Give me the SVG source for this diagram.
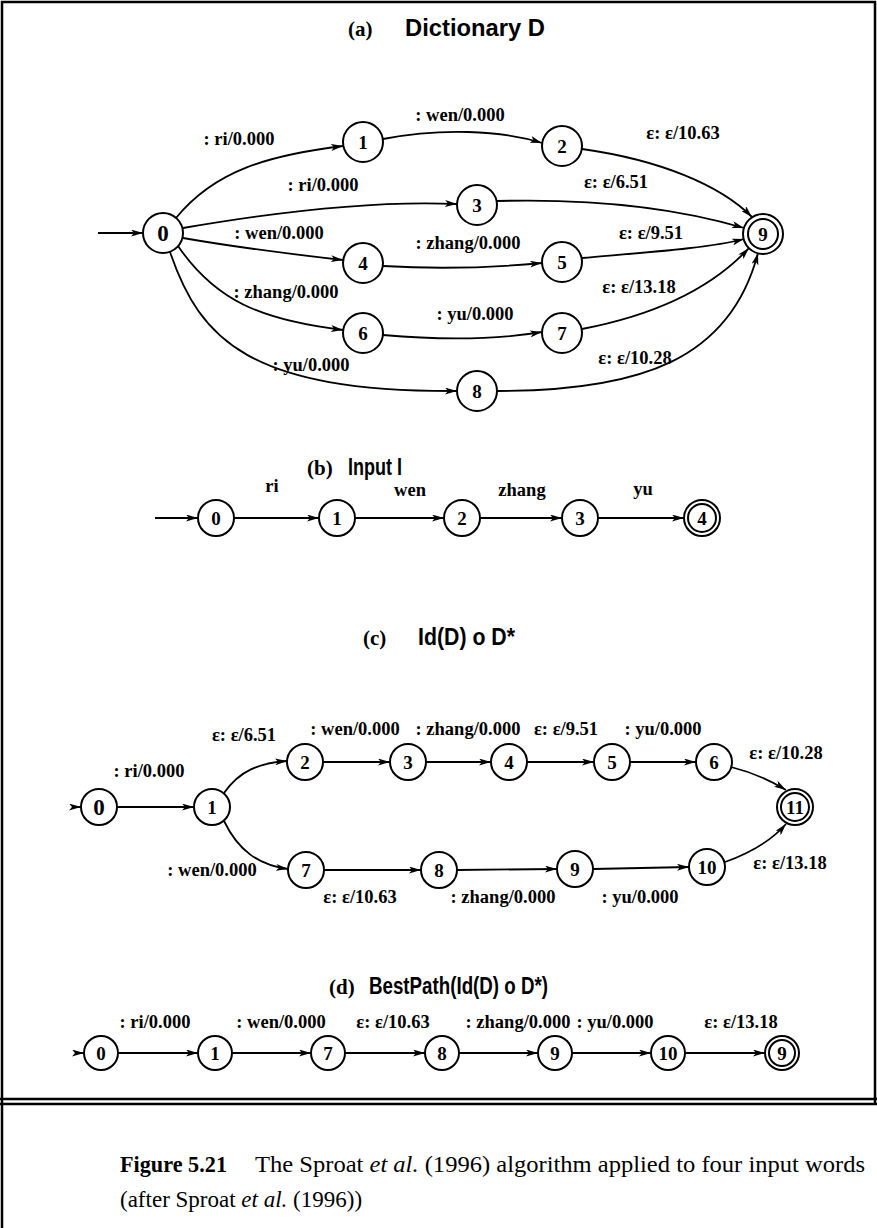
<svg xmlns="http://www.w3.org/2000/svg" width="877" height="1228" viewBox="0 0 877 1228">
<style>
.frame{fill:none;stroke:#000;stroke-width:2.5}
.n{fill:#fff;stroke:#000;stroke-width:2}
.e{fill:none;stroke:#000;stroke-width:1.8;marker-end:url(#ah)}
.num{font-family:"Liberation Serif","Times New Roman",serif;font-weight:bold;font-size:19px;text-anchor:middle}
.big{font-size:23px}
.lbl{font-family:"Liberation Serif","Times New Roman",serif;font-weight:bold;font-size:18.5px;text-anchor:middle}
.tl{font-family:"Liberation Serif","Times New Roman",serif;font-weight:bold;font-size:21px}
.th{font-family:"Liberation Sans",Arial,sans-serif;font-weight:bold;font-size:23px}
.cap{font-family:"Liberation Serif","Times New Roman",serif;font-size:23px}
</style>
<defs>
<marker id="ah" viewBox="0 0 12 7" refX="12" refY="3.5" markerWidth="12" markerHeight="7" orient="auto" markerUnits="userSpaceOnUse">
<path d="M0,0 L12,3.5 L0,7 L3,3.5 z" fill="#000"/>
</marker>
</defs>
<rect width="877" height="1228" fill="#fff"/>
<g id="frame">
<path class="frame" d="M2,1228 L2,2 L875,2 L875,1104"/>
<line class="frame" x1="0" y1="1099" x2="877" y2="1099" stroke-width="2"/>
<line class="frame" x1="0" y1="1104" x2="877" y2="1104" stroke-width="2"/>
</g>

<g id="titles">
<text class="tl" x="348" y="36">(a)</text>
<text class="th" x="405" y="36" textLength="140" lengthAdjust="spacingAndGlyphs">Dictionary D</text>
<text class="tl" x="307" y="475">(b)</text>
<text class="th" x="348" y="475" textLength="54" lengthAdjust="spacingAndGlyphs">Input I</text>
<text class="tl" x="363" y="645">(c)</text>
<text class="th" x="418" y="645" textLength="97" lengthAdjust="spacingAndGlyphs">Id(D) o D*</text>
<text class="tl" x="329" y="994">(d)</text>
<text class="th" x="369" y="994" textLength="179" lengthAdjust="spacingAndGlyphs">BestPath(Id(D) o D*)</text>
</g>

<g id="connectors">
<!-- (a) -->
<path class="e" d="M98,233 L143,233"/>
<path class="e" d="M176,218 C215,170 270,155 343,146"/>
<path class="e" d="M383,139 C440,128 500,130 542,143"/>
<path class="e" d="M183,228 C270,213 370,200 457,204"/>
<path class="e" d="M183,238 C240,248 290,254 343,260"/>
<path class="e" d="M383,266 C450,270 500,267 542,263"/>
<path class="e" d="M178,246 C215,300 260,320 343,330"/>
<path class="e" d="M383,335 C450,341 500,339 542,332"/>
<path class="e" d="M170,252 C200,340 250,392 457,391"/>
<path class="e" d="M582,149 C660,160 720,185 752,217"/>
<path class="e" d="M497,201 C610,198 690,212 744,228"/>
<path class="e" d="M582,258 C650,252 710,248 744,239"/>
<path class="e" d="M582,329 C650,316 710,290 749,248"/>
<path class="e" d="M497,391 C640,391 730,360 758,253"/>
<!-- (b) -->
<path class="e" d="M155,518 L198,518"/>
<path class="e" d="M234,518 L319,518"/>
<path class="e" d="M355,518 L444,518"/>
<path class="e" d="M480,518 L562,518"/>
<path class="e" d="M598,518 L684,518"/>
<!-- (c) -->
<path class="e" d="M74,807 L81,807"/>
<path class="e" d="M117,807 L194,807"/>
<path class="e" d="M224,793 C240,770 260,763 287,761"/>
<path class="e" d="M224,821 C238,850 258,865 288,869"/>
<path class="e" d="M323,762 L390,762"/>
<path class="e" d="M426,762 L491,762"/>
<path class="e" d="M527,762 L594,762"/>
<path class="e" d="M630,762 L696,762"/>
<path class="e" d="M731,767 C755,773 773,782 786,790"/>
<path class="e" d="M324,870 L421,870"/>
<path class="e" d="M457,870 L557,869"/>
<path class="e" d="M593,869 L689,867"/>
<path class="e" d="M725,862 C750,853 772,840 786,824"/>
<!-- (d) -->
<path class="e" d="M78,1053 L84,1053"/>
<path class="e" d="M118,1053 L198,1053"/>
<path class="e" d="M232,1053 L311,1053"/>
<path class="e" d="M345,1053 L425,1053"/>
<path class="e" d="M459,1053 L538,1053"/>
<path class="e" d="M572,1053 L651,1053"/>
<path class="e" d="M685,1053 L765,1053"/>
</g>

<g id="labels">
<text class="lbl" x="239" y="145">: ri/0.000</text>
<text class="lbl" x="460" y="121">: wen/0.000</text>
<text class="lbl" x="323" y="191">: ri/0.000</text>
<text class="lbl" x="279" y="239">: wen/0.000</text>
<text class="lbl" x="468" y="249">: zhang/0.000</text>
<text class="lbl" x="286" y="298">: zhang/0.000</text>
<text class="lbl" x="475" y="320">: yu/0.000</text>
<text class="lbl" x="311" y="371">: yu/0.000</text>
<text class="lbl" x="683" y="139">ε: ε/10.63</text>
<text class="lbl" x="616" y="188">ε: ε/6.51</text>
<text class="lbl" x="651" y="239">ε: ε/9.51</text>
<text class="lbl" x="639" y="293">ε: ε/13.18</text>
<text class="lbl" x="635" y="364">ε: ε/10.28</text>

<text class="lbl" x="272" y="492">ri</text>
<text class="lbl" x="410" y="496">wen</text>
<text class="lbl" x="522" y="496">zhang</text>
<text class="lbl" x="643" y="495">yu</text>

<text class="lbl" x="244" y="741">ε: ε/6.51</text>
<text class="lbl" x="355" y="735">: wen/0.000</text>
<text class="lbl" x="468" y="735">: zhang/0.000</text>
<text class="lbl" x="566" y="735">ε: ε/9.51</text>
<text class="lbl" x="663" y="735">: yu/0.000</text>
<text class="lbl" x="786" y="759">ε: ε/10.28</text>
<text class="lbl" x="149" y="777">: ri/0.000</text>
<text class="lbl" x="212" y="876">: wen/0.000</text>
<text class="lbl" x="790" y="869">ε: ε/13.18</text>
<text class="lbl" x="360" y="903">ε: ε/10.63</text>
<text class="lbl" x="503" y="903">: zhang/0.000</text>
<text class="lbl" x="640" y="903">: yu/0.000</text>

<text class="lbl" x="155" y="1028">: ri/0.000</text>
<text class="lbl" x="281" y="1028">: wen/0.000</text>
<text class="lbl" x="393" y="1028">ε: ε/10.63</text>
<text class="lbl" x="518" y="1028">: zhang/0.000</text>
<text class="lbl" x="615" y="1028">: yu/0.000</text>
<text class="lbl" x="741" y="1028">ε: ε/13.18</text>
</g>

<g id="a0"><circle class="n" cx="163" cy="233" r="20"/><text class="num big" x="163" y="241">0</text></g>
<g id="a1"><circle class="n" cx="363" cy="142" r="20"/><text class="num" x="363" y="149">1</text></g>
<g id="a2"><circle class="n" cx="562" cy="146" r="20"/><text class="num" x="562" y="153">2</text></g>
<g id="a3"><circle class="n" cx="477" cy="205" r="20"/><text class="num" x="477" y="212">3</text></g>
<g id="a4"><circle class="n" cx="363" cy="263" r="20"/><text class="num" x="363" y="270">4</text></g>
<g id="a5"><circle class="n" cx="562" cy="262" r="20"/><text class="num" x="562" y="269">5</text></g>
<g id="a6"><circle class="n" cx="363" cy="333" r="20"/><text class="num" x="363" y="340">6</text></g>
<g id="a7"><circle class="n" cx="562" cy="333" r="20"/><text class="num" x="562" y="340">7</text></g>
<g id="a8"><circle class="n" cx="477" cy="391" r="20"/><text class="num" x="477" y="398">8</text></g>
<g id="a9"><circle class="n" cx="763" cy="234" r="20"/><circle class="n" cx="763" cy="234" r="15"/><text class="num" x="763" y="241">9</text></g>

<g id="b0"><circle class="n" cx="216" cy="518" r="18"/><text class="num" x="216" y="525">0</text></g>
<g id="b1"><circle class="n" cx="337" cy="518" r="18"/><text class="num" x="337" y="525">1</text></g>
<g id="b2"><circle class="n" cx="462" cy="518" r="18"/><text class="num" x="462" y="525">2</text></g>
<g id="b3"><circle class="n" cx="580" cy="518" r="18"/><text class="num" x="580" y="525">3</text></g>
<g id="b4"><circle class="n" cx="702" cy="518" r="18"/><circle class="n" cx="702" cy="518" r="14"/><text class="num" x="702" y="525">4</text></g>

<g id="c0"><circle class="n" cx="99" cy="807" r="18"/><text class="num big" x="99" y="815">0</text></g>
<g id="c1"><circle class="n" cx="212" cy="807" r="18"/><text class="num" x="212" y="814">1</text></g>
<g id="c2"><circle class="n" cx="305" cy="762" r="18"/><text class="num" x="305" y="769">2</text></g>
<g id="c3"><circle class="n" cx="408" cy="762" r="18"/><text class="num" x="408" y="769">3</text></g>
<g id="c4"><circle class="n" cx="509" cy="762" r="18"/><text class="num" x="509" y="769">4</text></g>
<g id="c5"><circle class="n" cx="612" cy="762" r="18"/><text class="num" x="612" y="769">5</text></g>
<g id="c6"><circle class="n" cx="714" cy="762" r="18"/><text class="num" x="714" y="769">6</text></g>
<g id="c11"><circle class="n" cx="795" cy="807" r="18"/><circle class="n" cx="795" cy="807" r="14"/><text class="num" x="795" y="814">11</text></g>
<g id="c7"><circle class="n" cx="306" cy="870" r="18"/><text class="num" x="306" y="877">7</text></g>
<g id="c8"><circle class="n" cx="439" cy="870" r="18"/><text class="num" x="439" y="877">8</text></g>
<g id="c9"><circle class="n" cx="575" cy="869" r="18"/><text class="num" x="575" y="876">9</text></g>
<g id="c10"><circle class="n" cx="707" cy="867" r="18"/><text class="num" x="707" y="874">10</text></g>

<g id="d0"><circle class="n" cx="101" cy="1053" r="17"/><text class="num" x="101" y="1060">0</text></g>
<g id="d1"><circle class="n" cx="215" cy="1053" r="17"/><text class="num" x="215" y="1060">1</text></g>
<g id="d7"><circle class="n" cx="328" cy="1053" r="17"/><text class="num" x="328" y="1060">7</text></g>
<g id="d8"><circle class="n" cx="442" cy="1053" r="17"/><text class="num" x="442" y="1060">8</text></g>
<g id="d9"><circle class="n" cx="555" cy="1053" r="17"/><text class="num" x="555" y="1060">9</text></g>
<g id="d10"><circle class="n" cx="668" cy="1053" r="17"/><text class="num" x="668" y="1060">10</text></g>
<g id="d9f"><circle class="n" cx="782" cy="1053" r="17"/><circle class="n" cx="782" cy="1053" r="13"/><text class="num" x="782" y="1060">9</text></g>

<g id="caption">
<text class="cap" x="120" y="1172" font-weight="bold" textLength="107" lengthAdjust="spacingAndGlyphs">Figure 5.21</text>
<text class="cap" x="255" y="1172" textLength="610" lengthAdjust="spacingAndGlyphs">The Sproat <tspan font-style="italic">et al.</tspan> (1996) algorithm applied to four input words</text>
<text class="cap" x="120" y="1207">(after Sproat <tspan font-style="italic">et al.</tspan> (1996))</text>
</g>
</svg>
